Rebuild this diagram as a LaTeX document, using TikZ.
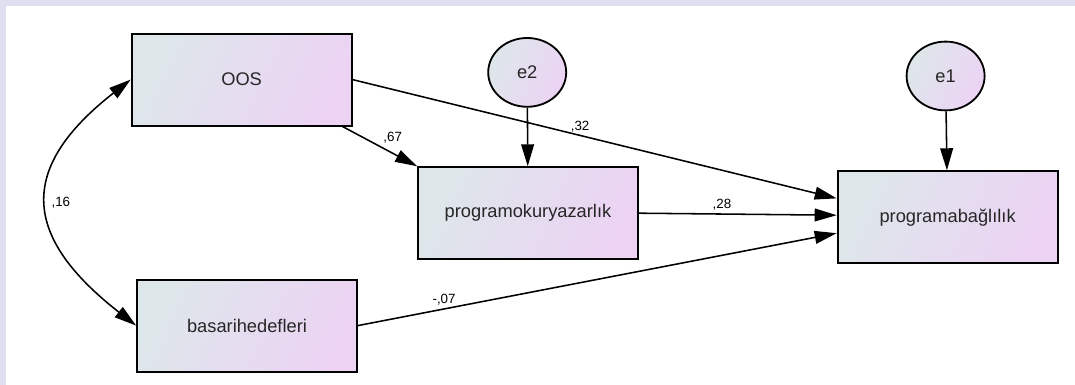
\documentclass[tikz,border=0pt]{standalone}
\usepackage{fontspec}
\setmainfont{Liberation Sans}
\usetikzlibrary{arrows.meta,shapes.geometric}

\definecolor{boxleft}{HTML}{DDE7EA}
\definecolor{boxright}{HTML}{ECD3F4}
\definecolor{framecol}{HTML}{DEE0EF}

\begin{document}
\begin{tikzpicture}[
    observed/.style={
      draw, line width=1.3pt,
      left color=boxleft, right color=boxright, shading angle=65,
      minimum width=5.5cm, minimum height=2.3cm,
      font=\fontsize{13}{15}\selectfont, text=black!85,
    },
    error/.style={observed, ellipse, minimum width=1.95cm, minimum height=1.72cm},
    path arrow/.style={line width=1.1pt, -{Triangle[length=0.55cm,width=0.32cm]}},
    weight/.style={font=\fontsize{9.5}{11}\selectfont, inner sep=2pt},
  ]
  \useasboundingbox (0,0) rectangle (26.875,-9.625);
  \fill[framecol] (0,0) rectangle (26.875,-0.15);
  \fill[framecol] (0,0) rectangle (0.15,-9.625);

  \node[observed] (oos) at (6.04,-1.99) {OOS};
  \node[observed] (basari) at (6.175,-8.14) {basarihedefleri};
  \node[observed] (prok) at (13.2,-5.33) {programokuryazarlık};
  \node[observed] (proba) at (23.69,-5.43) {programabağlılık};
  \node[error] (e2) at (13.18,-1.81) {e2};
  \node[error] (e1) at (23.64,-1.9) {e1};

  \draw[path arrow] ([xshift=-0.25cm]oos.south east) -- node[weight, above right, pos=0.5] {,67} (prok.north west);
  \draw[path arrow] (oos.east) -- node[weight, above, pos=0.47] {,32} ([yshift=0.47cm]proba.west);
  \draw[path arrow] (prok.east) -- node[weight, above, pos=0.42] {,28} ([yshift=0.05cm]proba.west);
  \draw[path arrow] (basari.east) -- node[weight, above, pos=0.18] {-,07} ([yshift=-0.4cm]proba.west);
  \draw[path arrow] (e2) -- (prok);
  \draw[path arrow] (e1) -- (proba);
  % covariance between the two exogenous variables
  \draw[line width=1.1pt, {Triangle[length=0.55cm,width=0.32cm]}-{Triangle[length=0.55cm,width=0.32cm]}]
    (oos.west) to[out=218, in=142, looseness=1.5] node[weight, right] {,16} (basari.west);
\end{tikzpicture}
\end{document}
